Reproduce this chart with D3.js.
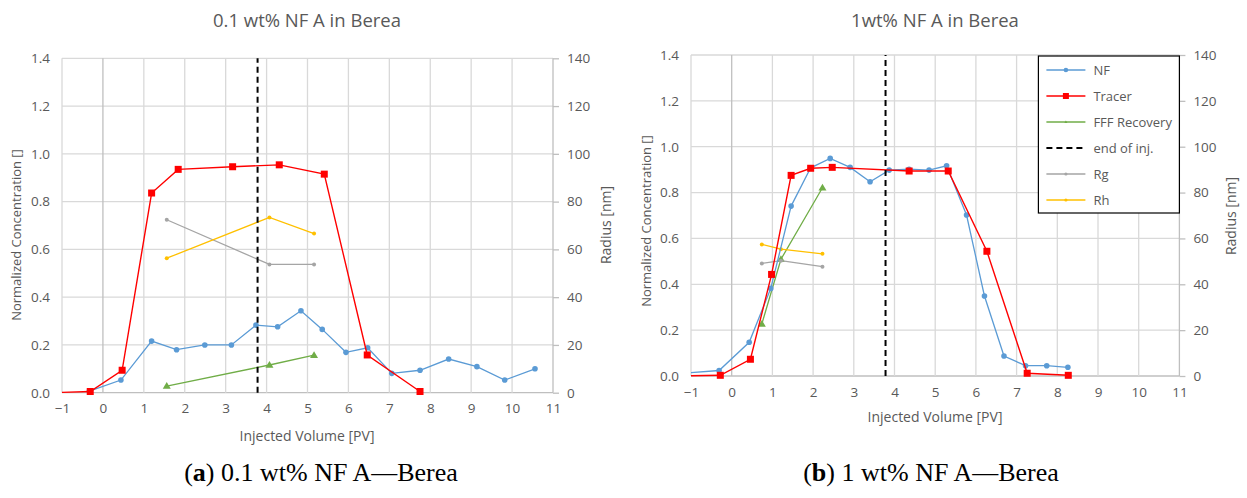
<!DOCTYPE html>
<html>
<head>
<meta charset="utf-8">
<script src="https://cdn.jsdelivr.net/npm/d3@7"></script>
<style>
    body{margin:0;background:#fff;}
    text{font-family:"Open Sans",sans-serif;fill:#595959;}
    .caption{font-family:"Liberation Serif",serif;fill:#000;}
</style>
</head>
<body>
<svg id="fig" width="1247" height="498"></svg>
<script>
// tick values
let xTicks = [-1,0,1,2,3,4,5,6,7,8,9,10,11];
let yTicks = [0,0.2,0.4,0.6,0.8,1.0,1.2,1.4];
let rTicks = [0,20,40,60,80,100,120,140];

// (a) 0.1 wt% - [injected volume, value]
let aNF = [[-0.33,0.007],[0.44,0.053],[1.19,0.216],[1.80,0.180],[2.49,0.200],[3.14,0.200],[3.74,0.283],[4.27,0.276],[4.84,0.343],[5.36,0.265],[5.94,0.169],[6.47,0.188],[7.06,0.081],[7.75,0.094],[8.45,0.141],[9.14,0.109],[9.82,0.053],[10.56,0.100]];
let aTracer = [[-1.3,0],[-0.31,0.005],[0.47,0.094],[1.19,0.836],[1.84,0.935],[3.17,0.946],[4.31,0.954],[5.41,0.915],[6.46,0.158],[7.75,0.005]];
let aFFF = [[1.56,0.028],[4.07,0.116],[5.16,0.157]];
let aRg = [[1.56,72.4],[4.07,53.7],[5.16,53.7]];   // nm
let aRh = [[1.56,56.3],[4.07,73.4],[5.16,66.6]];   // nm
let aEnd = 3.78;

// (b) 1 wt%
let bNF = [[-1.3,0.011],[-0.31,0.024],[0.43,0.147],[0.96,0.382],[1.46,0.741],[1.94,0.908],[2.42,0.949],[2.91,0.910],[3.40,0.847],[3.87,0.898],[4.36,0.902],[4.85,0.898],[5.28,0.917],[5.77,0.702],[6.21,0.349],[6.69,0.087],[7.22,0.045],[7.74,0.045],[8.26,0.038]];
let bTracer = [[-1.3,0],[-0.28,0.003],[0.46,0.073],[0.98,0.443],[1.46,0.875],[1.94,0.906],[2.47,0.910],[4.36,0.894],[5.32,0.894],[6.27,0.544],[7.26,0.012],[8.27,0.003]];
let bFFF = [[0.74,0.227],[1.21,0.509],[2.23,0.821]];
let bRg = [[0.74,49.1],[1.21,50.3],[2.23,47.7]];
let bRh = [[0.74,57.4],[1.21,55.3],[2.23,53.3]];
let bEnd = 3.78;

let legendNames = ["NF","Tracer","FFF Recovery","end of inj.","Rg","Rh"];

let svg = d3.select("#fig");
let fmt = d3.format(".1f");
let minus = (v)=> v < 0 ? "\u2212" + Math.abs(v) : "" + v;

let styles = {
    NF:{color:"#5b9bd5", width:1.3, mark:"circle", size:2.8},
    Tracer:{color:"#ff0000", width:1.4, mark:"square", size:7},
    FFF:{color:"#70ad47", width:1.3, mark:"triangle", size:4},
    Rg:{color:"#a5a5a5", width:1.3, mark:"circle", size:2},
    Rh:{color:"#ffc000", width:1.3, mark:"circle", size:2}
};

function marker(g, x, y, st){
    if(st.mark === "circle"){
        g.append("circle").attr("cx",x).attr("cy",y).attr("r",st.size).style("fill",st.color);
    }else if(st.mark === "square"){
        g.append("rect").attr("x",x-st.size/2).attr("y",y-st.size/2)
            .attr("width",st.size).attr("height",st.size).style("fill",st.color);
    }else{
        let s = st.size;
        g.append("path").attr("d",`M${x},${y-s}L${x+s},${y+s*0.7}L${x-s},${y+s*0.7}Z`).style("fill",st.color);
    }
}

function drawChart(o){
    let x = d3.scaleLinear().domain([-1,11]).range([o.left,o.right]);
    let y = d3.scaleLinear().domain([0,1.4]).range([o.bottom,o.top]);
    let r = d3.scaleLinear().domain([0,140]).range([o.bottom,o.top]);
    let g = svg.append("g");

    g.append("clipPath").attr("id",o.id+"clip")
        .append("rect").attr("x",o.left).attr("y",o.top-10)
        .attr("width",o.right-o.left).attr("height",o.bottom-o.top+20);

    // grid
    g.append("g").selectAll("line").data(yTicks).enter().append("line")
        .attr("x1",o.left).attr("x2",o.right)
        .attr("y1",d=>y(d)).attr("y2",d=>y(d))
        .style("stroke",d=>d===0?"#bfbfbf":"#d9d9d9").style("stroke-width",1.3);
    g.append("g").selectAll("line").data(xTicks.filter(d=>d<11)).enter().append("line")
        .attr("y1",o.top).attr("y2",o.bottom)
        .attr("x1",d=>x(d)).attr("x2",d=>x(d))
        .style("stroke",d=>d===0?"#bfbfbf":"#d9d9d9").style("stroke-width",1.3);

    // axes
    let ax = g.append("g").attr("transform",`translate(0,${o.bottom})`)
        .call(d3.axisBottom(x).tickValues(xTicks).tickSize(0).tickPadding(11).tickFormat(minus));
    let ay = g.append("g").attr("transform",`translate(${o.left},0)`)
        .call(d3.axisLeft(y).tickValues(yTicks).tickSize(0).tickPadding(12).tickFormat(fmt));
    let ar = g.append("g").attr("transform",`translate(${o.right},0)`)
        .call(d3.axisRight(r).tickValues(rTicks).tickSize(6).tickPadding(8));
    [ax,ay,ar].forEach(a=>{
        a.select(".domain").remove();
        a.selectAll("text").style("font-size","13.5px").style("fill","#595959").style("font-family","Open Sans");
        a.selectAll("line").style("stroke","#bfbfbf").style("stroke-width",1.3);
    });
    g.append("line").attr("x1",o.right).attr("x2",o.right).attr("y1",o.top).attr("y2",o.bottom)
        .style("stroke","#bfbfbf").style("stroke-width",1.3);

    // series
    let plot = g.append("g").attr("clip-path",`url(#${o.id}clip)`);
    let series = [
        {d:o.FFF, sc:y, st:styles.FFF},
        {d:o.Rg, sc:r, st:styles.Rg},
        {d:o.Rh, sc:r, st:styles.Rh},
        {d:o.NF, sc:y, st:styles.NF},
        {d:o.Tracer, sc:y, st:styles.Tracer}
    ];
    series.forEach(s=>{
        let line = d3.line().x(d=>x(d[0])).y(d=>s.sc(d[1]));
        plot.append("path").datum(s.d).attr("d",line)
            .style("fill","none").style("stroke",s.st.color).style("stroke-width",s.st.width);
        s.d.forEach(d=>marker(plot, x(d[0]), s.sc(d[1]), s.st));
    });

    g.append("line").attr("x1",x(o.end)).attr("x2",x(o.end))
        .attr("y1",y(0)).attr("y2",y(1.4))
        .style("stroke","#000").style("stroke-width",2).style("stroke-dasharray","6,4");

    // titles
    g.append("text").attr("x",o.titleX).attr("y",o.titleY).attr("text-anchor","middle")
        .style("font-size","18.5px").text(o.title);
    g.append("text").attr("x",o.titleX).attr("y",o.xTitleY).attr("text-anchor","middle")
        .style("font-size","14px").text("Injected Volume [PV]");
    g.append("text").attr("transform",`translate(${o.yTitleX},${o.yTitleY}) rotate(-90)`)
        .attr("text-anchor","middle").style("font-size","13px").text("Normalized Concentration []");
    g.append("text").attr("transform",`translate(${o.rTitleX},${o.rTitleY}) rotate(-90)`)
        .attr("text-anchor","middle").style("font-size","14px").text("Radius [nm]");

    svg.append("text").attr("class","caption").attr("x",o.capX).attr("y",481)
        .attr("text-anchor","middle").style("font-size","26px")
        .html(`(<tspan style="font-weight:bold">${o.letter}</tspan>) ${o.caption}`);

    if(o.legend){
        let lg = g.append("g").attr("transform",`translate(${o.right-141},${o.top+1})`);
        lg.append("rect").attr("width",141).attr("height",157)
            .style("fill","#fff").style("stroke","#000").style("stroke-width",1.2);
        let keys = ["NF","Tracer","FFF",null,"Rg","Rh"];
        legendNames.forEach((n,i)=>{
            let yy = 14 + i*26;
            let st = keys[i] ? styles[keys[i]] : null;
            if(st){
                lg.append("line").attr("x1",8).attr("x2",47).attr("y1",yy).attr("y2",yy)
                    .style("stroke",st.color).style("stroke-width",i===0?2:1.3).style("opacity",i===0?0.75:1);
                let sm = Object.assign({},st,{size:st.mark==="square"?6:(i===0?2.3:1.6)});
                marker(lg, 27.5, yy, sm);
            }else{
                lg.append("line").attr("x1",8).attr("x2",47).attr("y1",yy).attr("y2",yy)
                    .style("stroke","#000").style("stroke-width",2).style("stroke-dasharray","6,4");
            }
            lg.append("text").attr("x",55).attr("y",yy+5).style("font-size","13px").text(n);
        });
    }
}

drawChart({id:"a", left:62, right:553, top:58.3, bottom:392.7,
    NF:aNF, Tracer:aTracer, FFF:aFFF, Rg:aRg, Rh:aRh, end:aEnd,
    title:"0.1 wt% NF A in Berea", titleX:307, titleY:27, xTitleY:441,
    yTitleX:21, yTitleY:235, rTitleX:611, rTitleY:225,
    letter:"a", caption:"0.1 wt% NF A\u2014Berea", capX:321, legend:false});

drawChart({id:"b", left:691, right:1179.4, top:55, bottom:376,
    NF:bNF, Tracer:bTracer, FFF:bFFF, Rg:bRg, Rh:bRh, end:bEnd,
    title:"1wt% NF A in Berea", titleX:935, titleY:27, xTitleY:422,
    yTitleX:651, yTitleY:221, rTitleX:1236, rTitleY:216,
    letter:"b", caption:"1 wt% NF A\u2014Berea", capX:931, legend:true});
</script>
</body>
</html>
